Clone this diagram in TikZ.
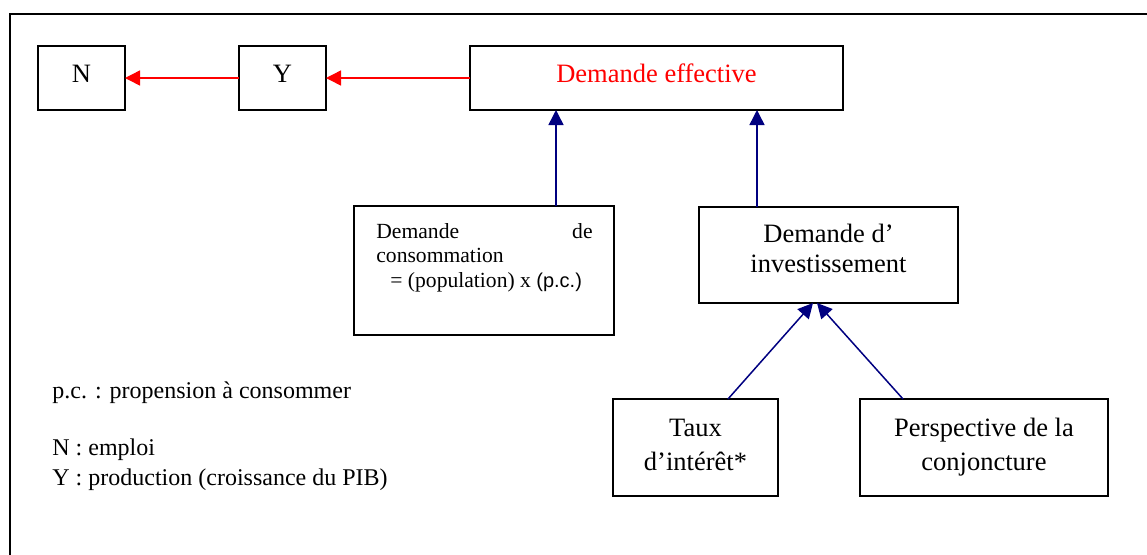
\documentclass[tikz,border=0pt]{standalone}
\usepackage{fontspec}
\setmainfont{Liberation Serif}
\setsansfont{Liberation Sans}
\usetikzlibrary{arrows.meta}
\definecolor{navyblue}{RGB}{0,0,128}
\definecolor{pured}{RGB}{255,0,0}
\begin{document}
\begin{tikzpicture}[x=0.5pt,y=-0.5pt,
  box/.style={draw, line width=0.85pt, inner sep=0pt, outer sep=0pt},
  lbl/.style={anchor=base, inner sep=0pt, font=\fontsize{13.25}{15}\selectfont},
  legend/.style={anchor=base west, inner sep=0pt, font=\fontsize{12}{14}\selectfont},
  cons/.style={inner sep=0pt, font=\fontsize{10.8}{12.5}\selectfont},
  redarr/.style={draw=pured, line width=0.75pt, -{Triangle[length=7.5pt,width=7.5pt]}},
  bluearr/.style={draw=navyblue, line width=0.75pt, -{Triangle[length=7.5pt,width=7.5pt]}}]
\useasboundingbox (0,0) rectangle (1147,554);
\clip (0,0) rectangle (1147,554);
% outer frame (cut by the picture's edges)
\draw[line width=1.1pt] (10,600) -- (10,14) -- (1200,14);
% boxes
\node[box, minimum width=43.5pt, minimum height=32pt] (N) at (81.5,78) {};
\node[box, minimum width=43.5pt, minimum height=32pt] (Y) at (282.5,78) {};
\node[box, minimum width=186.5pt, minimum height=32pt] (DE) at (656.5,78) {};
\node[box, minimum width=130pt, minimum height=64.5pt] (Cons) at (484,270.5) {};
\node[box, minimum width=129.5pt, minimum height=48pt] (Inv) at (828.5,255) {};
\node[box, minimum width=82.5pt, minimum height=48.5pt] (Taux) at (695.5,447.5) {};
\node[box, minimum width=124pt, minimum height=48.5pt] (Persp) at (984,447.5) {};
% box texts
\node[lbl] (tN) at (81.5,82) {N};
\node[lbl] (tY) at (282.5,82) {Y};
\node[lbl, text=pured] (tDE) at (656.5,82) {Demande effective};
\node[cons, anchor=base west] (tC1) at (376,238) {Demande};
\node[cons, anchor=base east] (tC2) at (593,238) {de};
\node[cons, anchor=base west] (tC3) at (376,262) {consommation};
\node[cons, anchor=base west] (tC4) at (390,287) {= (population) x {\sffamily\fontsize{10}{12}\selectfont (p.c.)}};
\node[lbl] (tI1) at (828.5,242) {Demande d’};
\node[lbl] (tI2) at (828.5,272) {investissement};
\node[lbl] (tT1) at (695.5,436) {Taux};
\node[lbl] (tT2) at (695.5,470) {d’intérêt*};
\node[lbl] (tP1) at (984,436) {Perspective de la};
\node[lbl] (tP2) at (984,470) {conjoncture};
% legend
\node[legend] (l1) at (52,398) {p.c. : propension à consommer};
\node[legend] (l2) at (52,455) {N : emploi};
\node[legend] (l3) at (52,485) {Y : production (croissance du PIB)};
% connectors
\draw[redarr] (DE.west) -- (Y.east);
\draw[redarr] (Y.west) -- (N.east);
\draw[bluearr] ([xshift=36pt]Cons.north) -- ([xshift=-50.25pt]DE.south);
\draw[bluearr] ([xshift=-35.75pt]Inv.north) -- ([xshift=50.25pt]DE.south);
\draw[bluearr] ([xshift=16.25pt]Taux.north) -- ([xshift=-7.75pt]Inv.south);
\draw[bluearr] ([xshift=-40.5pt]Persp.north) -- ([xshift=-5.75pt]Inv.south);
\end{tikzpicture}
\end{document}
